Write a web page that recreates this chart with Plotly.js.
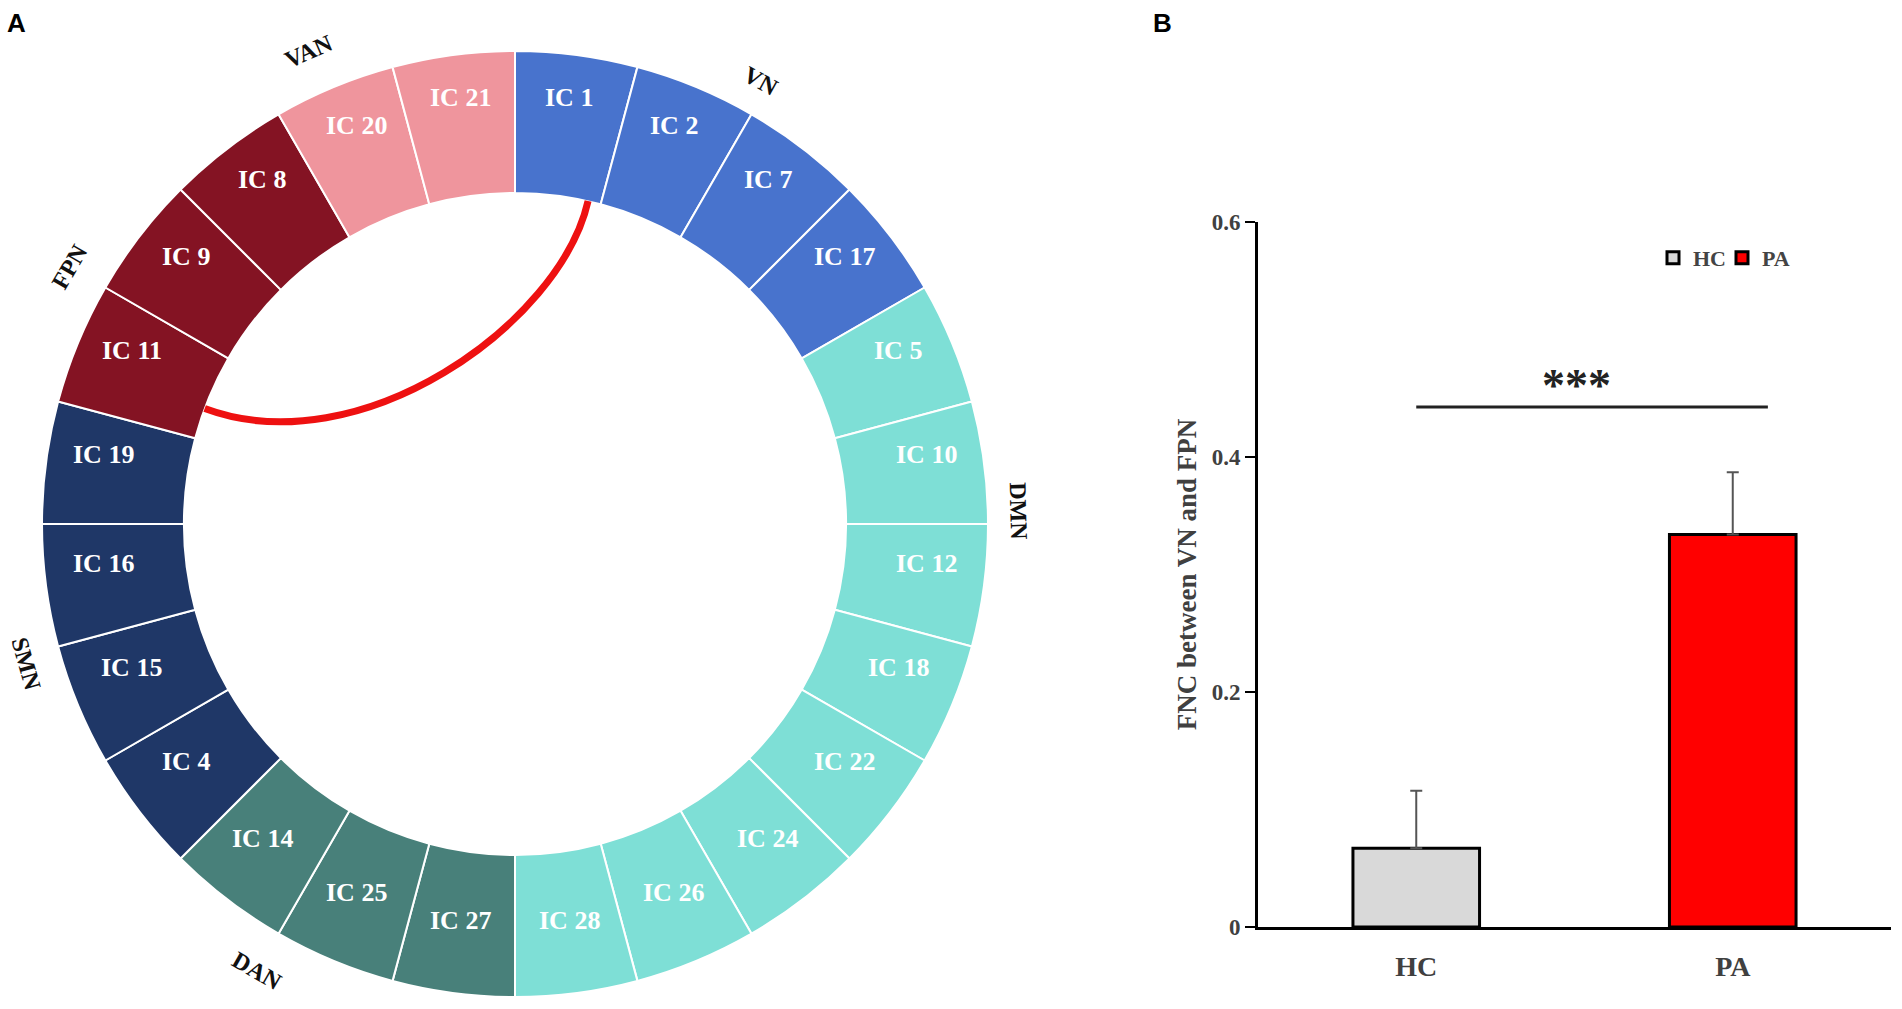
<!DOCTYPE html>
<html><head><meta charset="utf-8">
<script src="https://cdn.plot.ly/plotly-3.0.1.min.js"></script>
<style>html,body{margin:0;padding:0;background:#fff}#chart{width:1902px;height:1009px}</style>
</head><body><div id="chart"></div>
<script>
// ---------- Panel A data ----------
const icLabels = ['IC 1','IC 2','IC 7','IC 17','IC 5','IC 10','IC 12','IC 18','IC 22','IC 24','IC 26','IC 28',
                  'IC 27','IC 25','IC 14','IC 4','IC 15','IC 16','IC 19','IC 11','IC 9','IC 8','IC 20','IC 21'];
const icNetwork = ['VN','VN','VN','VN','DMN','DMN','DMN','DMN','DMN','DMN','DMN','DMN',
                   'DAN','DAN','DAN','SMN','SMN','SMN','SMN','FPN','FPN','FPN','VAN','VAN'];
const icSize = [1,1,1,1,1,1,1,1,1,1,1,1,1,1,1,1,1,1,1,1,1,1,1,1];
const networks = ['VN','DMN','DAN','SMN','FPN','VAN'];
const linkFrom = ['IC 1'];
const linkTo = ['IC 11'];

// ---------- Panel B data ----------
const groups = ['HC','PA'];
const fncMean = [0.067, 0.334];
const fncSE = [0.049, 0.053];
const yTicks = [0, 0.2, 0.4, 0.6];
const sigText = '***';

// ---------- styles / positions ----------
const netColor = {VN:'#4873cd', DMN:'#7edfd6', DAN:'#48807a', SMN:'#1f3767', FPN:'#841323', VAN:'#ef959d'};
const netLabelPos = {VN:[29,1.07], DMN:[88.5,1.065], DAN:[210,1.09], SMN:[254,1.075], FPN:[300,1.088], VAN:[336.5,1.09]};
const barFill = ['#d9d9d9','#ff0000'];
const legendItemWidth = [24, null];
const serif = 'Liberation Serif, Times New Roman, serif';
const HOLE = 0.70;
const linkFromFrac = [0.85], linkToFrac = [0.36];

// pixel geometry of the ring (in a 1902x1009 page)
const W = 1902, H = 1009;
const cx = 515, cy = 524, R = 473;
const dom = {x:[(cx-R)/W,(cx+R)/W], y:[(H-cy-R)/H,(H-cy+R)/H]};

// sector angles (deg, clockwise from 12 o'clock)
const total = icSize.reduce((a,b)=>a+b,0);
const startAng = []; let acc = 0;
icSize.forEach(s=>{startAng.push(acc/total*360); acc+=s;});
const spanAng = icSize.map(s=>s/total*360);
const pol = (deg, r)=>[r*Math.sin(deg*Math.PI/180), r*Math.cos(deg*Math.PI/180)];

const traces = [];
traces.push({
  type:'pie', values:icSize, labels:icLabels, sort:false, direction:'clockwise', rotation:0,
  hole:HOLE, domain:dom, textinfo:'none', hoverinfo:'label', showlegend:false,
  marker:{colors:icNetwork.map(n=>netColor[n]), line:{color:'#ffffff', width:2}}
});

groups.forEach((g,i)=>{
  const t = {
    type:'bar', x:[g], y:[fncMean[i]], name:g, width:0.4,
    marker:{color:barFill[i], line:{color:'#000', width:3}},
    error_y:{type:'data', array:[fncSE[i]], arrayminus:[0], symmetric:false, color:'#555', thickness:2, width:6},
    xaxis:'x', yaxis:'y', hoverinfo:'y'
  };
  if (legendItemWidth[i]) t.legendwidth = legendItemWidth[i];
  traces.push(t);
});

const annotations = [];
const shapes = [];
// IC labels
icLabels.forEach((lab,i)=>{
  const [x,y] = pol(startAng[i]+spanAng[i]/2, 0.877);
  annotations.push({xref:'x2', yref:'y2', x, y, text:lab, showarrow:false, yshift:15,
    font:{family:serif, size:26, color:'#ffffff', weight:'bold'}});
});
// Network labels
networks.forEach(n=>{
  const [ang, r] = netLabelPos[n];
  const [x,y] = pol(ang, r);
  let ta = ang; if (ang>90 && ang<270) ta = ang-180; if (ang>=270) ta = ang-360;
  annotations.push({xref:'x2', yref:'y2', x, y, text:n, showarrow:false, textangle:ta,
    font:{family:serif, size:24, color:'#111', weight:'bold'}});
});
// chord links (cubic Bezier, control points pulled toward centre)
linkFrom.forEach((f,k)=>{
  const i = icLabels.indexOf(f), j = icLabels.indexOf(linkTo[k]);
  const a1 = startAng[i] + spanAng[i]*linkFromFrac[k];
  const a2 = startAng[j] + spanAng[j]*linkToFrac[k];
  const p0 = pol(a1, HOLE), p3 = pol(a2, HOLE);
  const c1 = pol(a1, HOLE*0.62), c2 = pol(a2, HOLE*0.5);
  shapes.push({type:'path', xref:'x2', yref:'y2',
    path:`M${p0[0]},${p0[1]} C${c1[0]},${c1[1]} ${c2[0]},${c2[1]} ${p3[0]},${p3[1]}`,
    line:{color:'#ee1111', width:7}});
});
// significance bar
shapes.push({type:'line', xref:'x', yref:'y', x0:0, x1:1.111, y0:0.4426, y1:0.4426, line:{color:'#222', width:3}});
annotations.push({xref:'x', yref:'y', x:0.505, y:0.461, text:sigText, showarrow:false,
  font:{family:serif, size:46, color:'#222', weight:'bold'}});
// panel letters
annotations.push({xref:'paper', yref:'paper', x:5/W, y:1-6/H, xanchor:'left', yanchor:'top', text:'A', showarrow:false,
  font:{family:'Liberation Sans, Arial, sans-serif', size:26, color:'#000', weight:'bold'}});
annotations.push({xref:'paper', yref:'paper', x:1151/W, y:1-6/H, xanchor:'left', yanchor:'top', text:'B', showarrow:false,
  font:{family:'Liberation Sans, Arial, sans-serif', size:26, color:'#000', weight:'bold'}});

const tickFont = {family:serif, size:23, color:'#404040', weight:'bold'};
const layout = {
  width:W, height:H, margin:{l:0,r:0,t:0,b:0}, paper_bgcolor:'#fff', plot_bgcolor:'rgba(0,0,0,0)',
  barmode:'overlay', showlegend:true,
  legend:{orientation:'h', x:1653/W, y:1-258/H, xanchor:'left', yanchor:'middle', bgcolor:'rgba(0,0,0,0)',
    font:{family:serif, size:22, color:'#444', weight:'bold'}, itemwidth:30, traceorder:'normal'},
  xaxis:{domain:[1258/W, 1891/W], anchor:'y', type:'category', range:[-0.5,1.5], showgrid:false, zeroline:false,
    showline:true, linecolor:'#000', linewidth:3, ticks:'', ticklabelstandoff:12,
    tickfont:{family:serif, size:28, color:'#404040', weight:'bold'}, fixedrange:true},
  yaxis:{domain:[(H-927)/H, (H-222)/H], anchor:'x', range:[0,0.6], tickvals:yTicks, ticktext:yTicks.map(v=>String(v)),
    showgrid:false, zeroline:false, showline:true, linecolor:'#000', linewidth:3, ticks:'outside', ticklen:10, tickwidth:2,
    tickcolor:'#000', tickfont:tickFont, fixedrange:true,
    title:{text:'FNC between VN and FPN', font:{family:serif, size:27, color:'#404040', weight:'bold'}, standoff:8}},
  xaxis2:{domain:[0,1], anchor:'y2', range:[-cx/R, (W-cx)/R], visible:false, fixedrange:true},
  yaxis2:{domain:[0,1], anchor:'x2', range:[(cy-H)/R, cy/R], visible:false, fixedrange:true},
  annotations, shapes
};
Plotly.newPlot('chart', traces, layout, {displayModeBar:false, staticPlot:true});
</script></body></html>
